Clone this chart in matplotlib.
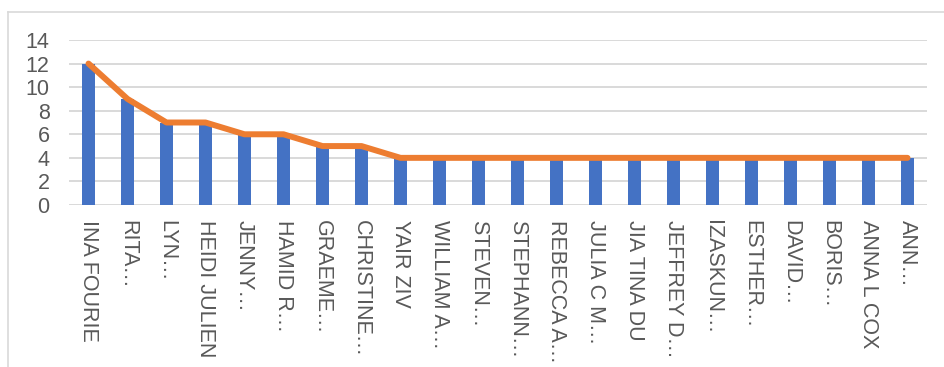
import matplotlib
matplotlib.use("Agg")
import matplotlib.pyplot as plt
from matplotlib.lines import Line2D

names = [
    "INA FOURIE", "RITA…", "LYN…", "HEIDI JULIEN", "JENNY…", "HAMID R…",
    "GRAEME…", "CHRISTINE…", "YAIR ZIV", "WILLIAM A…", "STEVEN…", "STEPHANN…",
    "REBECCA A…", "JULIA C M…", "JIA TINA DU", "JEFFREY D…", "IZASKUN…",
    "ESTHER…", "DAVID…", "BORIS…", "ANNA L COX", "ANN…",
]
counts = [12, 9, 7, 7, 6, 6, 5, 5, 4, 4, 4, 4, 4, 4, 4, 4, 4, 4, 4, 4, 4, 4]
trend = [12, 9, 7, 7, 6, 6, 5, 5, 4, 4, 4, 4, 4, 4, 4, 4, 4, 4, 4, 4, 4, 4]
yticks = [0, 2, 4, 6, 8, 10, 12, 14]

plt.rcParams["font.family"] = ["Liberation Sans Narrow", "Liberation Sans", "DejaVu Sans"]

W, H = 944, 367
fig = plt.figure(figsize=(W / 100, H / 100), dpi=100)
ax = fig.add_axes([69 / W, 1 - 205 / H, (927 - 69) / W, (205 - 40) / H])

x = list(range(len(names)))
ax.bar(x, counts, width=0.32, color="#4472C4", zorder=2)
ax.plot(x, trend, color="#ED7D31", lw=4.3, solid_capstyle="round", zorder=3)

ax.set_xlim(-0.5, len(names) - 0.5)
ax.set_ylim(0, 14)
ax.set_yticks(yticks)
ax.yaxis.grid(True, color="#d9d9d9", lw=1.4, zorder=0)
ax.set_axisbelow(True)
for s in ax.spines.values():
    s.set_visible(False)
ax.tick_params(axis="y", length=0, pad=14, labelsize=15.5, labelcolor="#595959")
ax.tick_params(axis="x", length=0, pad=11, labelsize=15.5, labelcolor="#595959")
ax.set_xticks(x)
ax.set_xticklabels(names, rotation=-90, ha="center", va="top")

# chart area frame (top and left edges)
fig.add_artist(Line2D([7.5 / W, 1], [1 - 11.5 / H] * 2, color="#d9d9d9", lw=1.2))
fig.add_artist(Line2D([7.5 / W] * 2, [0, 1 - 11.5 / H], color="#d9d9d9", lw=1.2))

fig.savefig("out.png", dpi=100)
